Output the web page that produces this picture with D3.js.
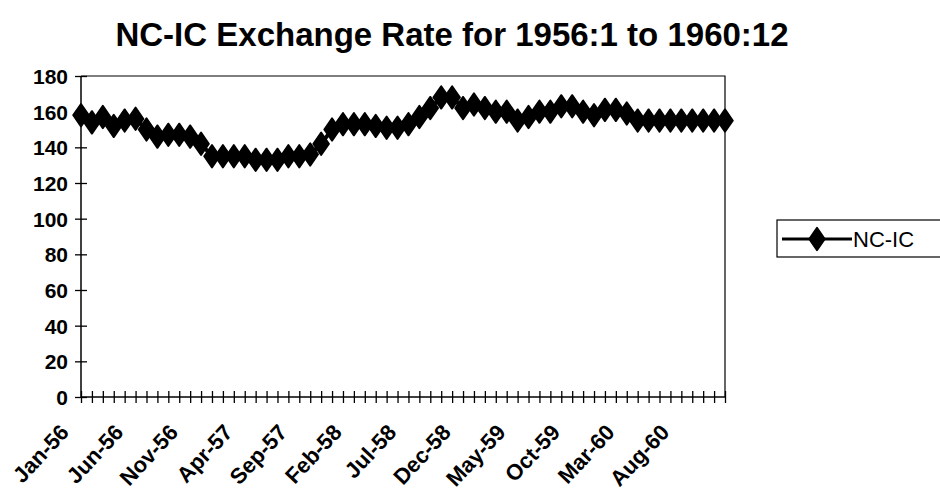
<!DOCTYPE html>
<html>
<head>
<meta charset="utf-8">
<script src="https://cdn.jsdelivr.net/npm/d3@7"></script>
<style>
  body { margin: 0; background: #fff; }
  text { font-family: "Liberation Sans", Arial, sans-serif; fill: #000; }
</style>
</head>
<body>
<div id="vis"></div>
<script>
var months = ["Jan", "Feb", "Mar", "Apr", "May", "Jun", "Jul", "Aug", "Sep", "Oct", "Nov", "Dec"];
var years = ["56", "57", "58", "59", "60"];
var rates = [158, 154, 157, 152, 155, 156, 150, 146, 147, 147,
             146, 142, 135, 135, 135, 135, 133, 133, 133, 135,
             135, 136, 142, 150, 153, 153, 153, 152, 151, 151,
             153, 157, 162, 168, 168, 162, 164, 162, 160, 160,
             155, 157, 160, 160, 163, 163, 160, 158, 161, 161,
             159, 155, 155, 155, 155, 155, 155, 155, 155, 155];
var yTicks = [0, 20, 40, 60, 80, 100, 120, 140, 160, 180];

var periods = [];
years.forEach(function(y) {
  months.forEach(function(m) { periods.push(m + "-" + y); });
});
var data = periods.map(function(p, i) { return { period: p, value: rates[i] }; });

var opts = {
  width: 940,
  height: 499,
  left: 81,
  right: 725,
  top: 76,
  bottom: 397
};

var svg = d3.select("#vis").append("svg")
  .attr("width", opts.width)
  .attr("height", opts.height);

var x = d3.scalePoint().domain(periods).range([opts.left, opts.right]);
var y = d3.scaleLinear().domain([0, 180]).range([opts.bottom, opts.top]);

svg.append("text")
  .attr("x", 452)
  .attr("y", 46)
  .attr("text-anchor", "middle")
  .style("font-size", "33px")
  .style("font-weight", "bold")
  .text("NC-IC Exchange Rate for 1956:1 to 1960:12");

// plot area border (top and right)
svg.append("path")
  .attr("d", "M" + opts.left + "," + opts.top + "H" + opts.right + "V" + opts.bottom)
  .attr("fill", "none")
  .attr("stroke", "#000")
  .attr("stroke-width", 1.2);

// y axis
var yAxis = svg.append("g")
  .attr("transform", "translate(" + opts.left + ",0)")
  .call(d3.axisLeft(y).tickValues(yTicks).tickSize(6).tickPadding(8));
yAxis.selectAll(".tick line").attr("x2", 6).attr("x1", -6).attr("stroke-width", 1.3);
yAxis.select(".domain").attr("stroke-width", 1.5).attr("d", "M0," + opts.top + "V" + opts.bottom);
yAxis.selectAll("text")
  .style("font-size", "21px")
  .style("font-weight", "bold")
  .style("font-family", "'Liberation Sans', Arial, sans-serif")
  .attr("dy", "0.36em")
  .attr("x", -13);

// x axis
var xAxis = svg.append("g")
  .attr("transform", "translate(0," + opts.bottom + ")")
  .call(d3.axisBottom(x).tickSize(6).tickFormat(function(d, i) { return i % 5 === 0 ? d : ""; }));
xAxis.selectAll(".tick line").attr("y1", -6).attr("y2", 6).attr("stroke-width", 1.3);
xAxis.select(".domain").attr("stroke-width", 1.5).attr("d", "M" + opts.left + ",0H" + opts.right);
xAxis.selectAll("text")
  .style("font-size", "22px")
  .style("font-weight", "bold")
  .style("font-family", "'Liberation Sans', Arial, sans-serif")
  .attr("text-anchor", "end")
  .attr("dy", "0.35em")
  .attr("y", 0)
  .attr("transform", "translate(-17,31) rotate(-47)");

// series line and markers
var line = d3.line()
  .x(function(d) { return x(d.period); })
  .y(function(d) { return y(d.value); });

svg.append("path")
  .datum(data)
  .attr("d", line)
  .attr("fill", "none")
  .attr("stroke", "#000")
  .attr("stroke-width", 4);

var diamond = d3.symbol().type(d3.symbolDiamond).size(150);
svg.selectAll(".pt")
  .data(data)
  .enter()
  .append("path")
  .attr("class", "pt")
  .attr("transform", function(d) { return "translate(" + x(d.period) + "," + y(d.value) + ") scale(1.2,1)"; })
  .attr("d", diamond)
  .attr("fill", "#000")
  .attr("stroke", "#000")
  .attr("stroke-width", 1.5)
  .attr("stroke-linejoin", "round");

// legend
var lg = svg.append("g").attr("transform", "translate(777,220)");
lg.append("rect")
  .attr("width", 170)
  .attr("height", 37)
  .attr("fill", "#fff")
  .attr("stroke", "#000")
  .attr("stroke-width", 1.2);
lg.append("line")
  .attr("x1", 5).attr("x2", 75)
  .attr("y1", 19).attr("y2", 19)
  .attr("stroke", "#000")
  .attr("stroke-width", 3);
lg.append("path")
  .attr("transform", "translate(40,19) scale(1.2,1)")
  .attr("d", diamond)
  .attr("fill", "#000")
  .attr("stroke", "#000")
  .attr("stroke-width", 1.5)
  .attr("stroke-linejoin", "round");
lg.append("text")
  .attr("x", 76)
  .attr("y", 27)
  .style("font-size", "22px")
  .text("NC-IC");
</script>
</body>
</html>
